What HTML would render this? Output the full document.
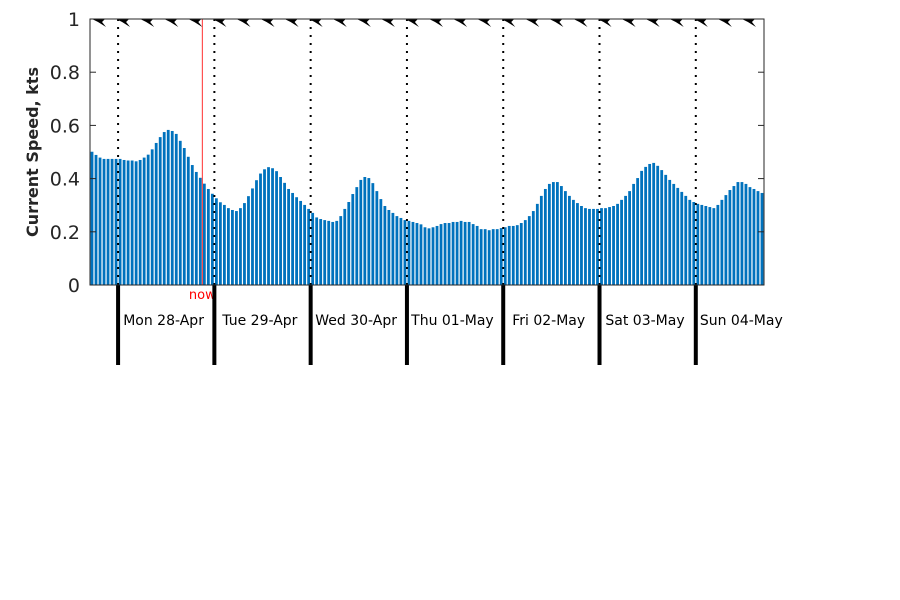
<!DOCTYPE html>
<html><head><meta charset="utf-8"><style>
body{margin:0;background:#fff;}
svg{display:block;font-family:"DejaVu Sans","Liberation Sans",sans-serif;}
</style></head><body>
<svg id="chart" width="900" height="600">
<g id="bars"></g>
<g id="grid"></g>
<g id="arrows"></g>
<g id="axes"></g>
</svg>
<script>
const speeds=[.501,.489,.479,.474,.474,.474,.474,.474,.47,.468,.468,.465,.47,.479,.49,.51,.534,.556,.575,.583,.579,.568,.542,.515,.482,.451,.425,.403,.381,.361,.343,.326,.311,.301,.289,.282,.278,.289,.308,.334,.363,.394,.419,.435,.443,.439,.428,.406,.384,.361,.346,.33,.316,.301,.286,.271,.254,.248,.244,.241,.237,.241,.259,.286,.312,.342,.368,.395,.406,.402,.383,.353,.323,.297,.282,.271,.259,.252,.244,.241,.237,.233,.228,.217,.213,.217,.222,.229,.233,.233,.237,.237,.241,.237,.237,.229,.222,.21,.21,.206,.21,.21,.214,.217,.222,.222,.225,.233,.244,.259,.278,.305,.335,.361,.38,.387,.387,.372,.353,.335,.32,.308,.297,.289,.286,.286,.286,.289,.289,.293,.297,.305,.32,.335,.353,.38,.402,.429,.444,.455,.459,.448,.432,.414,.395,.38,.365,.35,.335,.32,.312,.305,.301,.297,.293,.289,.301,.32,.338,.357,.372,.387,.387,.38,.368,.361,.353,.346];
const dayLabels=["Mon 28-Apr","Tue 29-Apr","Wed 30-Apr","Thu 01-May","Fri 02-May","Sat 03-May","Sun 04-May"];
const yTicks=[0,0.2,0.4,0.6,0.8,1];
const yTickLabels=["0","0.2","0.4","0.6","0.8","1"];
const firstDayIndex=7;
const nowIndex=28;
const NS="http://www.w3.org/2000/svg";
const L=90,R=764,T=19,B=285;
const step=(R-L)/speeds.length;
const xs=i=>L+step*i;
const ys=v=>B-(B-T)*v;
function mk(tag,attrs,parent){const e=document.createElementNS(NS,tag);for(const k in attrs)e.setAttribute(k,attrs[k]);parent.appendChild(e);return e;}
const gb=document.getElementById('bars');
speeds.forEach((v,i)=>{
 const r=mk('rect',{x:xs(i)+0.6,y:ys(v),width:step*0.7,height:B-ys(v),fill:'#0072bd'},gb);
 
 
});
const gg=document.getElementById('grid');
const ga=document.getElementById('axes');
dayLabels.forEach((d,j)=>{
 const x=xs(firstDayIndex+24*j);
 const dl=mk('line',{x1:x,x2:x,y1:T,y2:B,stroke:'#000','stroke-width':2,'stroke-dasharray':'2,6'},gg);
 
 
 const tl=mk('line',{x1:x,x2:x,y1:B,y2:365,stroke:'#000','stroke-width':4},ga);
 
 
 const t=mk('text',{x:x+45.5,y:325,'font-size':14,'text-anchor':'middle',fill:'#000'},ga);
 t.textContent=d;
 
 
});
const nx=xs(nowIndex);
const nl=mk('line',{x1:nx,x2:nx,y1:T,y2:B,stroke:'#ff3030','stroke-width':1},gg);


const nt=mk('text',{x:nx,y:299,'font-size':13,'text-anchor':'middle',fill:'#ff0000'},gg);
nt.textContent='now';


const gA=document.getElementById('arrows');
for(let i=2;i<speeds.length;i+=6){
 const x=xs(i)+1;
 const p=mk('polygon',{points:`${x-7},19 ${x+6},19 ${x+3},22 ${x+7},27 ${x-1},22`,fill:'#000'},gA);
 
 
}
const box=mk('rect',{x:L,y:T,width:R-L,height:B-T,fill:'none',stroke:'#262626','stroke-width':1},ga);


yTicks.forEach((v,j)=>{
 const y=ys(v);
 mk('line',{x1:L,x2:L+6,y1:y,y2:y,stroke:'#262626'},ga);
 mk('line',{x1:R-6,x2:R,y1:y,y2:y,stroke:'#262626'},ga);
 const t=mk('text',{x:80,y:y+7,'font-size':19,'text-anchor':'end',fill:'#262626'},ga);
 t.textContent=yTickLabels[j];
 
 
});
const yt=mk('text',{x:0,y:0,'font-size':16,'font-weight':'bold','text-anchor':'middle',fill:'#262626',transform:'translate(38,152) rotate(-90)'},ga);
yt.textContent='Current Speed, kts';


</script>
</body></html>
